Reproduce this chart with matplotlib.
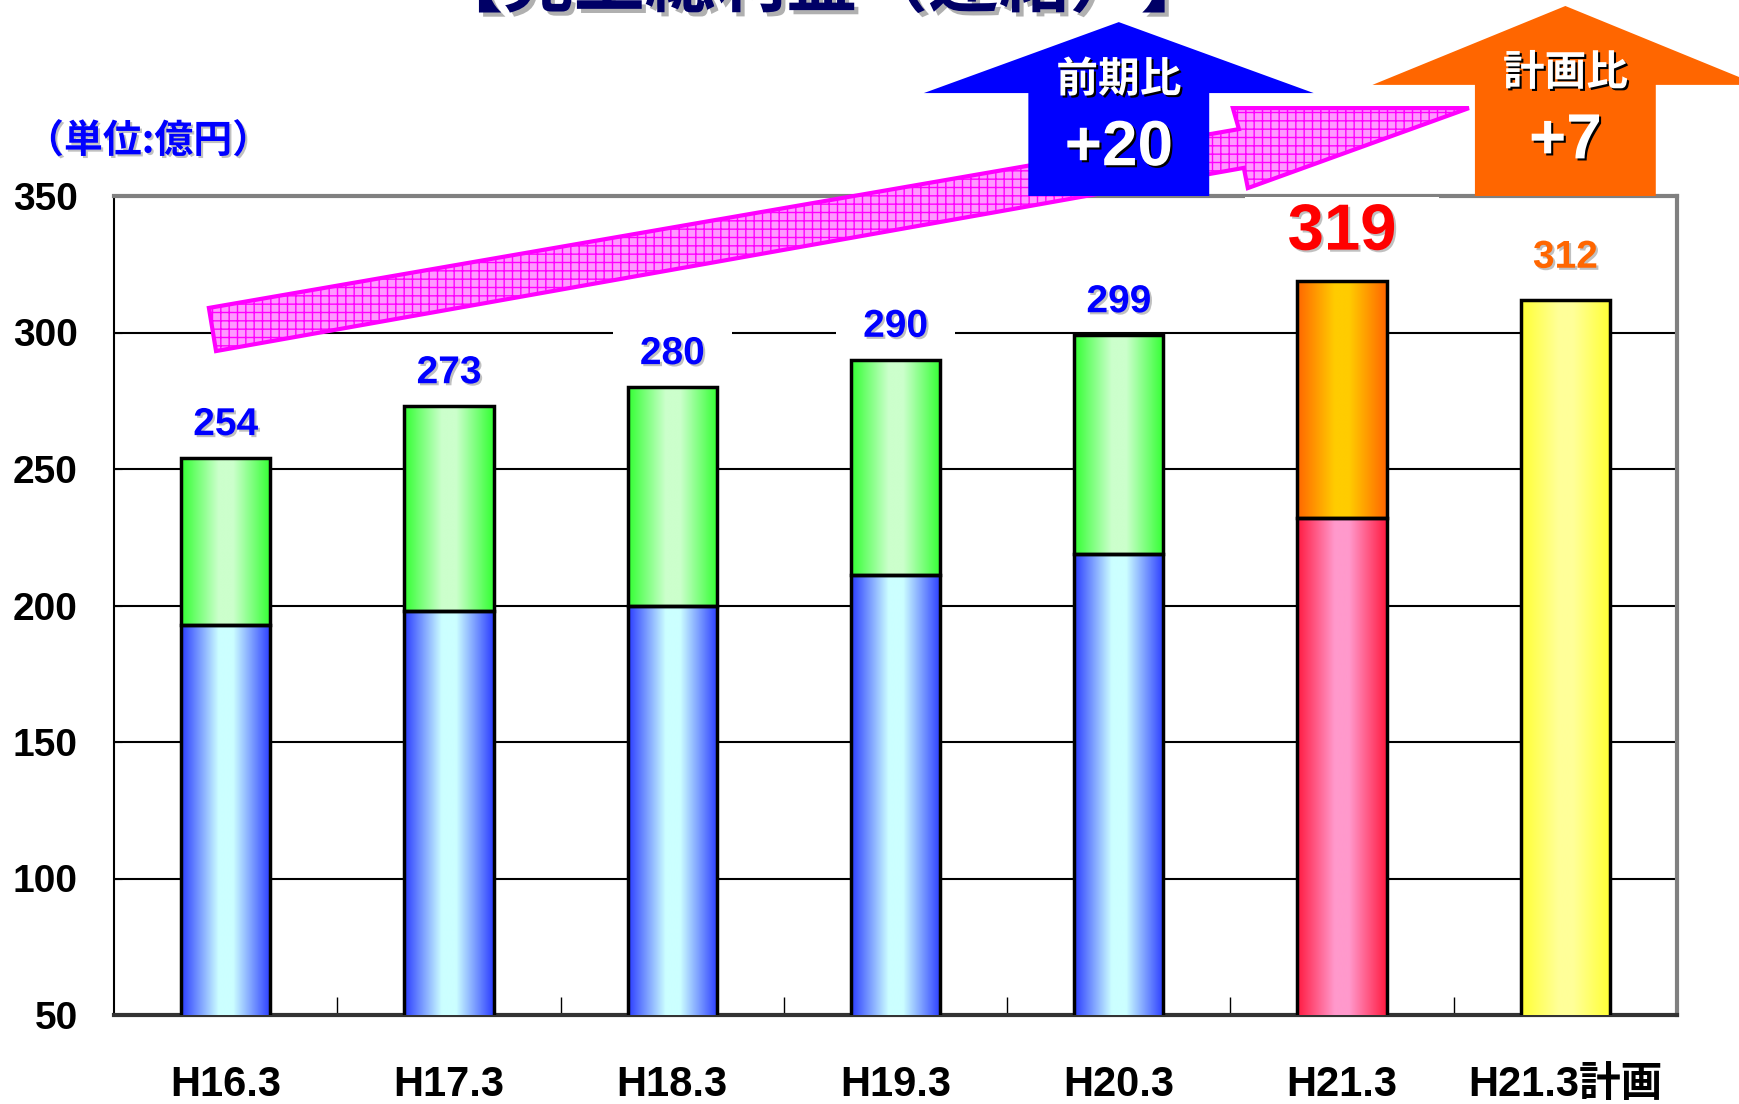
""" gross profit chart """
import matplotlib
matplotlib.use('Agg')
import matplotlib.pyplot as plt
import matplotlib.patheffects as pe
from matplotlib.colors import LinearSegmentedColormap
from matplotlib.patches import Polygon
import numpy as np

categories = ['H16.3', 'H17.3', 'H18.3', 'H19.3', 'H20.3', 'H21.3', 'H21.3計画']
lower = [193, 198, 200, 211, 219, 232, 312]
totals = [254, 273, 280, 290, 299, 319, 312]
yticks = [50, 100, 150, 200, 250, 300, 350]

title = '【売上総利益（連結）】'
unit = '（単位:億円）'
yoy_label, yoy_value = '前期比', '+20'
plan_label, plan_value = '計画比', '+7'

# (edge, middle) colours of each bar's horizontal gradient
lower_colors = [('#2a3cff', '#ccffff')] * 5 + [('#ff1a40', '#ff99cc'), ('#ffff33', '#ffff99')]
upper_colors = [('#33ff33', '#ccffcc')] * 5 + [('#ff6600', '#ffcc00'), None]
label_colors = ['#0000ff'] * 5 + ['#ff0000', '#ff6600']
label_sizes = [28] * 5 + [47, 28]
label_offsets = [33] * 5 + [48, 42]

JP = ['Noto Sans CJK JP', 'DejaVu Sans']
NUM = ['Liberation Sans', 'Noto Sans CJK JP']
W = 0.4


def gradient_segment(ax, x, y0, y1, edge, mid):
    """ one bar piece with a left-right shading """
    cmap = LinearSegmentedColormap.from_list(
        'g', [(0, edge), (0.42, mid), (0.58, mid), (1, edge)])
    grad = np.linspace(0, 1, 256).reshape(1, -1)
    ax.imshow(grad, extent=[x - W / 2, x + W / 2, y0, y1], aspect='auto',
              cmap=cmap, zorder=3, interpolation='bilinear')
    ax.bar(x, y1 - y0, bottom=y0, width=W, fill=False,
           edgecolor='black', linewidth=2.5, zorder=4)


def up_arrow(ax, cx, head_half, shaft_half, head_base, tip, color):
    pts = [(cx - shaft_half, 350), (cx - shaft_half, head_base),
           (cx - head_half, head_base), (cx, tip), (cx + head_half, head_base),
           (cx + shaft_half, head_base), (cx + shaft_half, 350)]
    ax.add_patch(Polygon(pts, closed=True, facecolor=color, edgecolor='none',
                         clip_on=False, zorder=6))


fig = plt.figure(figsize=(17.39, 11.04), dpi=100)
ax = fig.add_axes([114 / 1739, 1 - 1015 / 1104, (1677 - 114) / 1739, (1015 - 196) / 1104])
ax.set_axisbelow(True)

x = np.arange(len(categories))
for i in x:
    gradient_segment(ax, i, 0, lower[i], *lower_colors[i])
    if upper_colors[i] is not None:
        gradient_segment(ax, i, lower[i], totals[i], *upper_colors[i])

shadow_light = [pe.withSimplePatchShadow(offset=(1.5, -1.5), shadow_rgbFace='#c0c0c0', alpha=1)]
for i in x:
    ax.annotate(f'  {totals[i]}  ', xy=(i, totals[i]), xytext=(0, label_offsets[i]),
                textcoords='offset pixels', ha='center', va='center',
                fontsize=label_sizes[i], color=label_colors[i], weight='bold',
                family=NUM, bbox=dict(facecolor='white', edgecolor='none', pad=4),
                path_effects=shadow_light, zorder=2.6, annotation_clip=False)

ax.set_xlim(-0.5, len(categories) - 0.5)
ax.set_ylim(50, 350)
ax.set_yticks(yticks)
ax.set_xticks(x)
ax.set_xticklabels(categories, family=NUM, weight='bold', fontsize=30)
ax.set_xticks(x[:-1] + 0.5, minor=True)
ax.tick_params(axis='x', which='major', length=0, pad=36)
ax.tick_params(axis='x', which='minor', direction='in', length=13, width=1, color='black')
ax.tick_params(axis='y', direction='in', length=6, pad=26, labelsize=28)
for lab in ax.get_yticklabels():
    lab.set_family(NUM)
    lab.set_weight('bold')
ax.yaxis.grid(True, color='black', linewidth=1.5)

for side in ['top', 'right']:
    ax.spines[side].set_color('#808080')
    ax.spines[side].set_linewidth(3)
ax.spines['left'].set_linewidth(1.5)
ax.spines['bottom'].set_color('#333333')
ax.spines['bottom'].set_linewidth(3)

# pink trend arrow
trend = [(-0.075, 309.0), (4.538, 374.5), (4.511, 382.2), (5.568, 382.2),
         (4.578, 352.9), (4.560, 360.3), (-0.043, 293.2)]
ax.add_patch(Polygon(trend, closed=True, facecolor='#ff99ff', edgecolor='#ff00ff',
                     hatch='++', linewidth=3, clip_on=False, zorder=5))

up_arrow(ax, 4, 0.873, 0.405, 387.7, 413.7, '#0000ff')
up_arrow(ax, 6, 0.864, 0.405, 390.7, 419.6, '#ff6600')

shadow_dark = [pe.withSimplePatchShadow(offset=(1.5, -1.5), shadow_rgbFace='black', alpha=1)]
for cx, lab, val, y_lab, y_val in [(4, yoy_label, yoy_value, 392.5, 367.5),
                                   (6, plan_label, plan_value, 395.0, 370.0)]:
    ax.text(cx, y_lab, lab, ha='center', va='center', fontsize=30, color='white',
            weight='bold', family=JP, path_effects=shadow_dark, clip_on=False, zorder=7)
    ax.text(cx, y_val, val, ha='center', va='center', fontsize=46, color='white',
            weight='bold', family=NUM, path_effects=shadow_dark, clip_on=False, zorder=7)

fig.text(822 / 1739, 1 - 6 / 1104, title, ha='center', va='baseline', fontsize=51,
         color='#000066', weight='bold', family=JP,
         path_effects=[pe.withSimplePatchShadow(offset=(3, -3), shadow_rgbFace='#b0b0b0', alpha=1)])
fig.text(148 / 1739, 1 - 141 / 1104, unit, ha='center', va='center', fontsize=28,
         color='#0000ff', weight='bold', family=JP, path_effects=shadow_light)

fig.savefig('out.png', dpi=100, facecolor='white')
